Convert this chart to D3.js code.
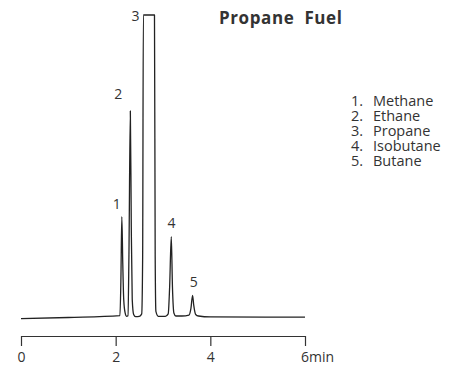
<!DOCTYPE html>
<html>
<head>
<meta charset="utf-8">
<script src="https://cdn.jsdelivr.net/npm/d3@7"></script>
<style>
  html, body { margin: 0; padding: 0; background: #fff; }
  svg { display: block; }
  text { font-family: "Open Sans", "Noto Sans", sans-serif; fill: #333; }
</style>
</head>
<body>
<svg id="chart" width="449" height="370"></svg>
<script>
// Trace: retention time (min) and detector signal (arbitrary units)
const traceTime = [0.00, 1.00, 2.09, 2.11, 2.13, 2.15, 2.17, 2.20, 2.23, 2.26, 2.28, 2.31, 2.33, 2.35, 2.38, 2.42, 2.50, 2.55, 2.57, 2.585, 2.82, 2.835, 2.85, 2.90, 3.05, 3.11, 3.14, 3.175, 3.20, 3.23, 3.27, 3.40, 3.55, 3.59, 3.625, 3.65, 3.69, 3.75, 4.00, 6.00];
const traceSignal = [-0.4, 0.0, 0.6, 12.0, 33.3, 18.0, 6.0, 1.5, 0.4, 0.6, 20.0, 68.3, 30.0, 6.0, 1.0, 0.3, 0.4, 1.2, 20.0, 100, 100, 20.0, 2.0, 0.4, 0.4, 1.2, 10.0, 26.7, 10.0, 1.5, 0.5, 0.5, 0.8, 3.0, 7.3, 4.0, 1.0, 0.5, 0.2, 0.1];

// Peak labels
const peakNumbers = ["1", "2", "3", "4", "5"];
const peakTimes = [2.13, 2.31, 2.59, 3.18, 3.63];
const peakHeights = [33.3, 68.3, 100, 26.7, 7.3];

// Legend
const compoundNames = ["Methane", "Ethane", "Propane", "Isobutane", "Butane"];

// Axis ticks
const tickValues = [0, 2, 4, 6];
const tickLabels = ["0", "2", "4", "6"];
const axisUnit = "min";

const title = "Propane\u00A0 Fuel";

const svg = d3.select("#chart");

const x = d3.scaleLinear().domain([0, 6]).range([21, 305]);
const y = d3.scaleLinear().domain([0, 100]).range([317.5, 15]);

const data = traceTime.map((t, i) => [t, traceSignal[i]]);

const line = d3.line()
  .x(d => x(d[0]))
  .y(d => y(d[1]))
  .curve(d3.curveMonotoneX);

svg.append("path")
  .datum(data)
  .attr("d", line)
  .attr("fill", "none")
  .attr("stroke", "#222")
  .attr("stroke-width", 1.3)
  .attr("stroke-linejoin", "round");

// X axis
const axisY = 336;
const axis = d3.axisBottom(x)
  .tickValues(tickValues)
  .tickSize(10)
  .tickSizeOuter(0)
  .tickFormat((d, i) => tickLabels[i]);

const gx = svg.append("g")
  .attr("transform", `translate(0,${axisY})`)
  .call(axis);
gx.select(".domain").attr("stroke", "#333").attr("stroke-width", 1.2);
gx.selectAll(".tick line").attr("stroke", "#333").attr("stroke-width", 1.2);
gx.selectAll(".tick text")
  .attr("y", 16)
  .attr("dy", "0.71em")
  .style("font-size", "14px")
  .style("font-family", "'Open Sans', 'Noto Sans', sans-serif")
  .attr("fill", "#333");
// unit after last tick
gx.selectAll(".tick").filter(d => d === 6).select("text")
  .attr("text-anchor", "start")
  .attr("x", -4.5)
  .text(tickLabels[3] + axisUnit);

// Peak labels
const labelDx = [-5, -12, -8, 0, 1];
const labelDy = [-8, -12, 6, -9, -8];
svg.selectAll(".peaklabel")
  .data(peakNumbers)
  .enter().append("text")
  .attr("class", "peaklabel")
  .attr("x", (d, i) => x(peakTimes[i]) + labelDx[i])
  .attr("y", (d, i) => y(peakHeights[i]) + labelDy[i])
  .attr("text-anchor", "middle")
  .style("font-size", "14px")
  .text(d => d);

// Title
svg.append("text")
  .attr("x", 219)
  .attr("y", 24)
  .style("font-size", "17px")
  .style("font-weight", "bold")
  .style("letter-spacing", "0.6px")
  .attr("fill", "#222")
  .text(title);

// Legend
const legend = svg.append("g");
compoundNames.forEach((name, i) => {
  const t = legend.append("text")
    .attr("x", 351).attr("y", 106 + i * 15)
    .style("font-size", "14.5px");
  t.append("tspan").text(peakNumbers[i] + ".");
  t.append("tspan").attr("x", 373).text(name);
});
</script>
</body>
</html>
